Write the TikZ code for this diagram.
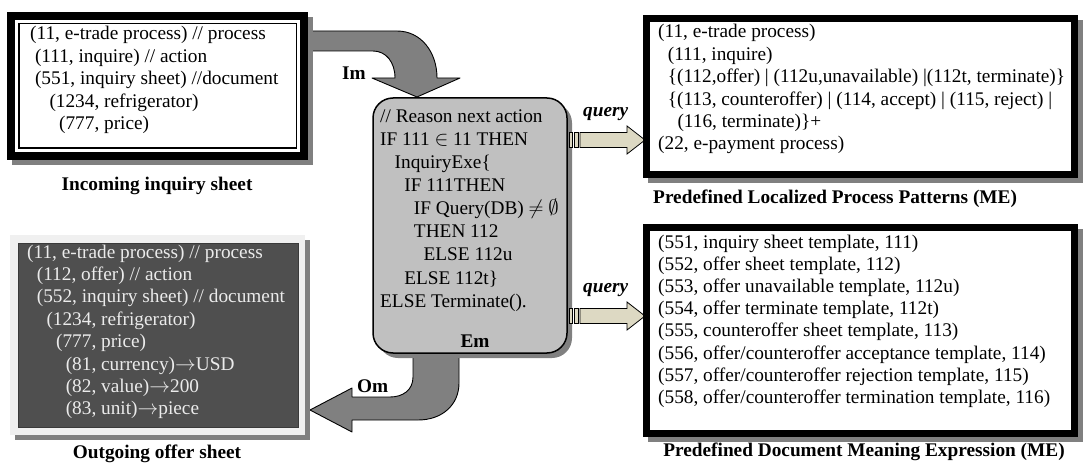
\documentclass[tikz,border=0pt]{standalone}
\usepackage{fontspec}
\setmainfont{Liberation Serif}
\definecolor{shadowgray}{HTML}{808080}
\definecolor{centerfill}{HTML}{C0C0C0}
\definecolor{arrowgray}{HTML}{808080}
\definecolor{darkfill}{HTML}{4F4F4F}
\definecolor{darkedge}{HTML}{3A3A3A}
\definecolor{lightframe}{HTML}{F0F0F0}
\definecolor{querytan}{HTML}{DDD9C3}
\definecolor{lighttext}{HTML}{EBEBEB}
\newcommand\ind[1]{\hspace*{#1\fontdimen2\font}}
\begin{document}
\begin{tikzpicture}[x=1pt,y=-1pt,
  txt/.style={anchor=base west, inner sep=0pt, font=\fontsize{19.3}{22.4}\selectfont},
  ctxt/.style={anchor=base west, inner sep=0pt, font=\fontsize{19.3}{23}\selectfont},
  lbl/.style={inner sep=0pt, font=\fontsize{19.3}{22}\selectfont\bfseries},
  qlbl/.style={inner sep=0pt, anchor=base west, font=\fontsize{19.3}{22}\selectfont\bfseries\itshape},
  blockarrow/.style={fill=arrowgray, draw=black, line width=0.9pt, line join=round},
  qarrow/.style={fill=querytan, draw=black, line width=0.8pt},
  shadowbox/.style={fill=shadowgray}
]
\useasboundingbox (0,0) rectangle (1083,465);

% Im arrow (behind the incoming box)
\filldraw[blockarrow] (300,31) -- (397,31) .. controls (421,31) and (437,52) .. (437,78)
  -- (460,78) -- (417,97) -- (372,78) -- (395,78) .. controls (395,62) and (386,51) .. (373,51)
  -- (300,51) -- cycle;
% Om arrow (behind the centre box)
\filldraw[blockarrow] (413,345) -- (413,377) .. controls (413,390) and (403,397) .. (390,397)
  -- (352,397) -- (352,388) -- (310,410) -- (352,432) -- (352,420) -- (418,420)
  .. controls (442,420) and (459,405) .. (459,383) -- (459,345) -- cycle;

% Incoming inquiry sheet box
\fill[shadowbox] (12,17) rectangle (313,165);
\fill[black] (7,12) rectangle (308,160);
\fill[white] (15,20) rectangle (300,152);
\draw[black, line width=1.5pt] (18.75,23.75) rectangle (296.25,148.25);
\node[txt] (intext) at (30,40) {\parbox[t]{270pt}{\raggedright
(11, e-trade process) // process\\
\ind1(111, inquire) // action\\
\ind1(551, inquiry sheet) //document\\
\ind4(1234, refrigerator)\\
\ind6(777, price)}};
\node[lbl, anchor=base] (inlabel) at (157,190) {Incoming inquiry sheet};

% Outgoing offer sheet box
\fill[shadowbox] (15,240) rectangle (310,440);
\fill[lightframe] (10,235) rectangle (305,435);
\filldraw[fill=darkfill, draw=darkedge, line width=1pt] (18,243) rectangle (298,427);
\node[txt, text=lighttext] (outtext) at (27,258) {\parbox[t]{270pt}{\raggedright
(11, e-trade process) // process\\
\ind2(112, offer) // action\\
\ind2(552, inquiry sheet) // document\\
\ind4(1234, refrigerator)\\
\ind6(777, price)\\
\ind8(81, currency)$\rightarrow$USD\\
\ind8(82, value)$\rightarrow$200\\
\ind8(83, unit)$\rightarrow$piece}};
\node[lbl, anchor=base] (outlabel) at (157,458) {Outgoing offer sheet};

% Centre reasoning box
\fill[shadowbox, rounded corners=20pt] (378,103) rectangle (572,358);
\filldraw[fill=centerfill, draw=black, line width=1.5pt, rounded corners=20pt] (373,98) rectangle (567,353);
\node[ctxt] (reason) at (380,123) {\parbox[t]{185pt}{\raggedright
// Reason next action\\
IF 111 $\in$ 11 THEN\\
\ind2 InquiryExe\{\\
\ind4 IF 111THEN\\
\ind6 IF Query(DB) $\neq$ $\emptyset$\\
\ind6 THEN 112\\
\ind8 ELSE 112u\\
\ind4 ELSE 112t\}\\
ELSE Terminate().}};
\node[lbl, anchor=base] (em) at (475,347) {Em};
\node[lbl, anchor=base west] (im) at (342,80) {Im};
\node[lbl, anchor=base west] (om) at (357,392) {Om};

% query arrows
\filldraw[qarrow] (569,132.5) rectangle (572.5,147.5);
\filldraw[qarrow] (574,132.5) rectangle (578,147.5);
\filldraw[qarrow] (580,132.5) -- (627,132.5) -- (627,126) -- (645,140) -- (627,154) -- (627,147.5) -- (580,147.5) -- cycle;
\node[qlbl] (q1) at (583,117) {query};
\filldraw[qarrow] (569,308.5) rectangle (572.5,323.5);
\filldraw[qarrow] (574,308.5) rectangle (578,323.5);
\filldraw[qarrow] (580,308.5) -- (627,308.5) -- (627,302) -- (645,316) -- (627,330) -- (627,323.5) -- (580,323.5) -- cycle;
\node[qlbl] (q2) at (583,292) {query};

% Predefined Localized Process Patterns box
\fill[shadowbox] (648,20) rectangle (1083,183);
\filldraw[fill=white, draw=black, line width=7pt] (646.5,18.5) rectangle (1074.5,174.5);
\node[txt] (pptext) at (658,38) {\parbox[t]{415pt}{\raggedright
(11, e-trade process)\\
\ind2(111, inquire)\\
\ind2\{(112,offer) | (112u,unavailable) |(112t, terminate)\}\\
\ind2\{(113, counteroffer) | (114, accept) | (115, reject) |\\
\ind4(116, terminate)\}+\\
(22, e-payment process)}};
\node[lbl, anchor=base west] (pplabel) at (653,203) {Predefined Localized Process Patterns (ME)};

% Predefined Document Meaning Expression box
\fill[shadowbox] (648,229) rectangle (1083,442);
\filldraw[fill=white, draw=black, line width=7pt] (646.5,227.5) rectangle (1074.5,433.5);
\node[txt, font=\fontsize{19.3}{22.2}\selectfont] (dmtext) at (658,248) {\parbox[t]{415pt}{\raggedright
(551, inquiry sheet template, 111)\\
(552, offer sheet template, 112)\\
(553, offer unavailable template, 112u)\\
(554, offer terminate template, 112t)\\
(555, counteroffer sheet template, 113)\\
(556, offer/counteroffer acceptance template, 114)\\
(557, offer/counteroffer rejection template, 115)\\
(558, offer/counteroffer termination template, 116)}};
\node[lbl, anchor=base] (dmlabel) at (864,456) {Predefined Document Meaning Expression (ME)};
\end{tikzpicture}
\end{document}
